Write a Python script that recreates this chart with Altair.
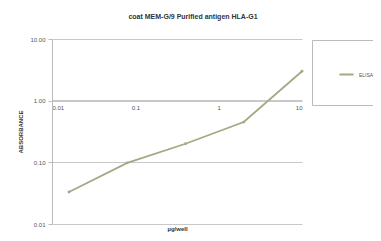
import altair as alt
import pandas as pd

dose = [0.016, 0.08, 0.4, 2, 10]
absorbance = [0.033, 0.098, 0.2, 0.45, 3.0]
series = ["ELISA"] * 5
y_ticks = [0.01, 0.1, 1, 10]
x_ticks = [0.01, 0.1, 1, 10]

df = pd.DataFrame({"dose": dose, "abs": absorbance, "series": series})

FONT = "Liberation Sans"

chart = alt.Chart(df).mark_line(
    point=alt.OverlayMarkDef(size=8, filled=True, color="#a4a884"),
    strokeWidth=1.8,
).encode(
    x=alt.X("dose:Q", scale=alt.Scale(type="log", domain=[0.01, 10], nice=False),
            axis=alt.Axis(values=x_ticks, format="~g", offset=-124, title="µg/well",
                          titleY=125, grid=False, tickSize=0, labelPadding=4,
                          labelFontSize=6, titleFontSize=6, titleFontWeight="bold",
                          domainColor="#c8c8c8", labelColor="#555555", titleColor="#333333",
                          labelFont=FONT, titleFont=FONT)),
    y=alt.Y("abs:Q", scale=alt.Scale(type="log", domain=[0.01, 10], nice=False),
            axis=alt.Axis(values=y_ticks, format=".2f", title="ABSORBANCE",
                          grid=True, gridColor="#c8c8c8", tickSize=4, tickColor="#bbbbbb",
                          domainColor="#bbbbbb", labelFontSize=6, titleFontSize=6,
                          titleFontWeight="bold", labelColor="#555555", titleColor="#333333",
                          titlePadding=6, labelPadding=3, labelFont=FONT, titleFont=FONT)),
    color=alt.Color("series:N", scale=alt.Scale(range=["#a4a884"]),
                    legend=alt.Legend(title=None, orient="none", legendX=260, legendY=1,
                                      strokeColor="#bbbbbb", fillColor="white",
                                      padding=26, symbolType="stroke", symbolSize=200,
                                      symbolStrokeWidth=2, labelFontSize=5,
                                      labelFont=FONT, labelColor="#555555")),
).properties(
    width=250,
    height=185,
    padding={"left": 44, "top": 31, "right": 71, "bottom": 9},
    autosize=alt.AutoSizeParams(type="none"),
    title=alt.TitleParams("coat MEM-G/9 Purified antigen HLA-G1", fontSize=7,
                          fontWeight="bold", font=FONT, color="#333333",
                          offset=16, dx=16),
).configure_view(stroke=None)

chart.save("out.html", embed_options={"renderer": "svg", "actions": False})
